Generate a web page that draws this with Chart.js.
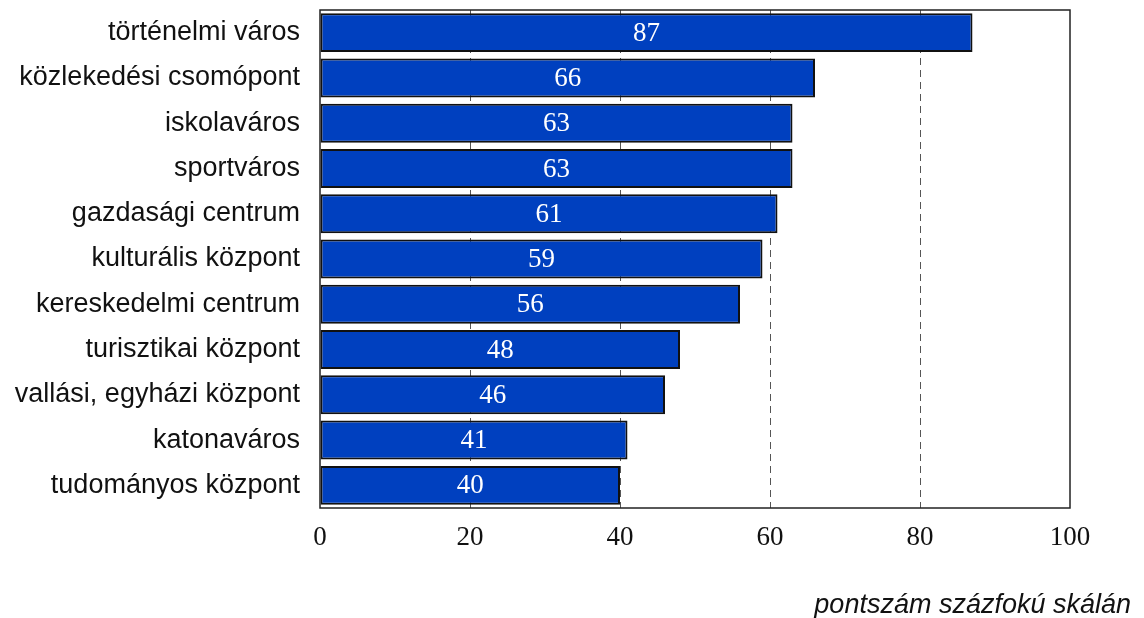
<!DOCTYPE html>
<html>
<head>
<meta charset="utf-8">
<script src="https://cdn.jsdelivr.net/npm/chart.js@4/dist/chart.umd.min.js"></script>
<style>
  html, body { margin: 0; padding: 0; background: #fff; }
  #wrap { width: 1144px; height: 618px; }
</style>
</head>
<body>
<div id="wrap"><canvas id="barChart"></canvas></div>
<script>
const categories = [
  "történelmi város",
  "közlekedési csomópont",
  "iskolaváros",
  "sportváros",
  "gazdasági centrum",
  "kulturális központ",
  "kereskedelmi centrum",
  "turisztikai központ",
  "vallási, egyházi központ",
  "katonaváros",
  "tudományos központ"
];
const scores = [87, 66, 63, 63, 61, 59, 56, 48, 46, 41, 40];
const xTicks = [0, 20, 40, 60, 80, 100];
const axisNote = "pontszám százfokú skálán";

const canvas = document.getElementById("barChart");

// values written in the middle of each bar
const valueLabels = {
  id: "valueLabels",
  afterDatasetsDraw(chart) {
    const ctx = chart.ctx;
    const meta = chart.getDatasetMeta(0);
    ctx.save();
    ctx.fillStyle = "#ffffff";
    ctx.font = "27px 'Liberation Serif', 'Times New Roman', serif";
    ctx.textAlign = "center";
    ctx.textBaseline = "middle";
    meta.data.forEach((bar, i) => {
      ctx.fillText(String(scores[i]), (bar.x + bar.base) / 2, bar.y + 1);
    });
    ctx.restore();
  }
};

// frame round the plot and the note under the axis
const frame = {
  id: "frame",
  afterDraw(chart) {
    const ctx = chart.ctx;
    const a = chart.chartArea;
    ctx.save();
    ctx.strokeStyle = "#222";
    ctx.lineWidth = 1.5;
    ctx.strokeRect(a.left, a.top, a.right - a.left, a.bottom - a.top);
    ctx.fillStyle = "#111";
    ctx.font = "italic 27px 'Liberation Sans', Arial, sans-serif";
    ctx.textAlign = "right";
    ctx.textBaseline = "middle";
    ctx.fillText(axisNote, chart.width - 13, 605);
    ctx.restore();
  }
};

new Chart(canvas, {
  type: "bar",
  data: {
    labels: categories,
    datasets: [{
      data: scores,
      backgroundColor: "#0040BF",
      borderColor: "#111",
      borderWidth: 2,
      borderSkipped: false,
      categoryPercentage: 1,
      barPercentage: 0.86
    }]
  },
  options: {
    indexAxis: "y",
    responsive: true,
    maintainAspectRatio: false,
    animation: false,
    devicePixelRatio: 1,
    layout: { padding: { top: 10, right: 74, bottom: 0, left: 0 } },
    plugins: {
      legend: { display: false },
      tooltip: { enabled: false }
    },
    scales: {
      x: {
        min: 0,
        max: 100,
        afterBuildTicks(scale) {
          scale.ticks = xTicks.map(v => ({ value: v }));
        },
        afterFit(scale) {
          scale.height = 110;
          scale.paddingLeft = 0;
          scale.paddingRight = 0;
        },
        grid: {
          drawTicks: false,
          color: ctx => (ctx.tick && (ctx.tick.value === 0 || ctx.tick.value === 100)) ? "rgba(0,0,0,0)" : "#555",
          lineWidth: 1
        },
        border: { display: false, dash: [7, 5] },
        ticks: {
          color: "#111",
          padding: 14,
          maxRotation: 0,
          font: { family: "'Liberation Serif', 'Times New Roman', serif", size: 27 }
        }
      },
      y: {
        afterFit(scale) {
          scale.width = 320;
          scale.paddingTop = 0;
          scale.paddingBottom = 0;
        },
        border: { display: false },
        grid: { display: false, drawTicks: false },
        ticks: {
          color: "#111",
          padding: 20,
          font: { family: "'Liberation Sans', Arial, sans-serif", size: 27 }
        }
      }
    }
  },
  plugins: [valueLabels, frame]
});
</script>
</body>
</html>
